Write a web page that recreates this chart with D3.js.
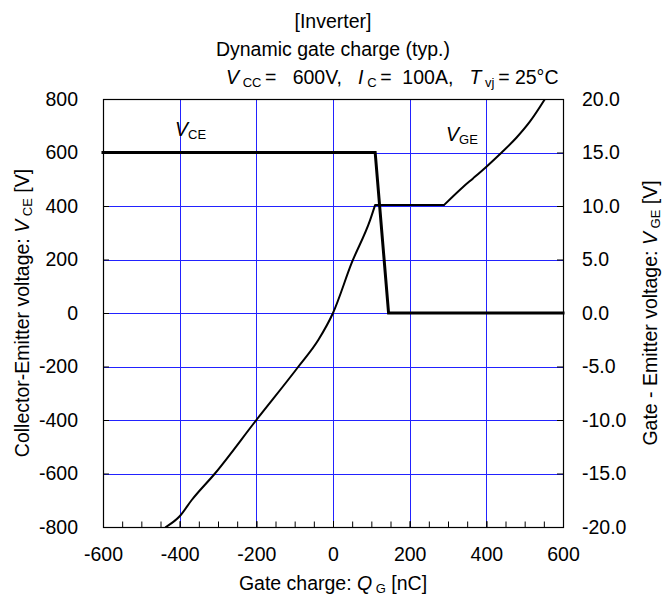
<!DOCTYPE html>
<html>
<head>
<meta charset="utf-8">
<script src="https://cdn.jsdelivr.net/npm/d3@7"></script>
<style>
  body { margin: 0; background: #fff; }
  text { font-family: Arial, "Liberation Sans", sans-serif; fill: #000; white-space: pre; }
</style>
</head>
<body>
<svg id="chart"></svg>
<script>
// axis ticks
const qTicks = [-600, -400, -200, 0, 200, 400, 600];
const qMinorTicks = [-600, -550, -500, -450, -400, -350, -300, -250, -200, -150, -100, -50, 0,
  50, 100, 150, 200, 250, 300, 350, 400, 450, 500, 550, 600];
const vceTicks = [-800, -600, -400, -200, 0, 200, 400, 600, 800];
const vgeTicks = [-20, -15, -10, -5, 0, 5, 10, 15, 20];

// V_CE curve (left axis)
const qgVce = [-600, 110, 145, 600];
const vce = [600, 600, 0, 0];

// V_GE curve (right axis)
const qgVge = [-436, -400, -369, -308, -200, -90, -38, 0, 49, 97, 110, 290, 340, 366, 401, 440, 479, 514, 553];
const vge = [-20, -19.0, -17.5, -15, -10, -5, -2.5, 0, 4.7, 8.7, 10.1, 10.1, 11.8, 12.6, 13.7, 15, 16.4, 17.9, 20];
// the plateau (Miller region) runs between these two charges
const plateauStart = 110;
const plateauEnd = 290;

const width = 668;
const height = 598;
const margin = { top: 99, right: 105, bottom: 71, left: 103 };
const fs = 19.5;
const subFs = 13;

const svg = d3.select('#chart')
  .attr('width', width)
  .attr('height', height);

const x = d3.scaleLinear().domain([-600, 600]).range([margin.left, width - margin.right]);
const yL = d3.scaleLinear().domain([-800, 800]).range([height - margin.bottom, margin.top]);
const yR = d3.scaleLinear().domain([-20, 20]).range([height - margin.bottom, margin.top]);

const x0 = margin.left;
const x1 = width - margin.right;
const y0 = margin.top;
const y1 = height - margin.bottom;

// grid
const grid = svg.append('g').attr('stroke', '#2222ff').attr('stroke-width', 1);
grid.selectAll('line.v')
  .data(qTicks.slice(1, -1))
  .enter()
  .append('line')
  .attr('x1', (d) => Math.round(x(d)) + 0.5)
  .attr('x2', (d) => Math.round(x(d)) + 0.5)
  .attr('y1', y0)
  .attr('y2', y1);
grid.selectAll('line.h')
  .data(vceTicks.slice(1, -1))
  .enter()
  .append('line')
  .attr('x1', x0)
  .attr('x2', x1)
  .attr('y1', (d) => Math.round(yL(d)) + 0.5)
  .attr('y2', (d) => Math.round(yL(d)) + 0.5);

// axes (ticks point inward)
const styleAxis = (g) => {
  g.select('.domain').remove();
  g.selectAll('line').attr('stroke', '#000');
  g.selectAll('text').style('font-size', `${fs}px`).style('font-family', 'Arial, "Liberation Sans", sans-serif');
};

svg.append('g')
  .attr('transform', `translate(${x0},0)`)
  .call(d3.axisLeft(yL).tickValues(vceTicks).tickSize(-6).tickPadding(25).tickFormat((d) => String(d)))
  .call(styleAxis);

svg.append('g')
  .attr('transform', `translate(${x1},0)`)
  .call(d3.axisRight(yR).tickValues(vgeTicks).tickSize(-6).tickPadding(19).tickFormat((d) => d.toFixed(1)))
  .call(styleAxis);

svg.append('g')
  .attr('transform', `translate(0,${y1})`)
  .call(d3.axisBottom(x).tickValues(qMinorTicks).tickSize(-5.5).tickFormat(''))
  .call(styleAxis);

svg.append('g')
  .attr('transform', `translate(0,${y1})`)
  .call(d3.axisBottom(x).tickValues(qTicks).tickSize(-6).tickPadding(20).tickFormat((d) => String(d)))
  .call(styleAxis);

// frame
svg.append('rect')
  .attr('x', x0 + 0.5)
  .attr('y', y0 + 0.5)
  .attr('width', x1 - x0)
  .attr('height', y1 - y0)
  .attr('fill', 'none')
  .attr('stroke', '#000')
  .attr('stroke-width', 1.2);

svg.append('clipPath').attr('id', 'plot-clip')
  .append('rect')
  .attr('x', x0)
  .attr('y', y0)
  .attr('width', x1 - x0)
  .attr('height', y1 - y0);

// curves
const vgePts = qgVge.map((q, i) => [q, vge[i]]);
const vgeSmooth = d3.line()
  .x((d) => x(d[0]))
  .y((d) => yR(d[1]))
  .curve(d3.curveMonotoneX);
const vgeStraight = d3.line()
  .x((d) => x(d[0]))
  .y((d) => yR(d[1]));
// smooth rise, flat plateau with sharp corners, smooth rise again
const vgePath = vgeSmooth(vgePts.filter((d) => d[0] <= plateauStart))
  + vgeStraight(vgePts.filter((d) => d[0] >= plateauStart && d[0] <= plateauEnd))
  + vgeSmooth(vgePts.filter((d) => d[0] >= plateauEnd));

svg.append('path')
  .attr('clip-path', 'url(#plot-clip)')
  .attr('d', vgePath)
  .attr('fill', 'none')
  .attr('stroke', '#000')
  .attr('stroke-width', 2)
  .attr('stroke-linecap', 'round')
  .attr('stroke-linejoin', 'round');

const vceLine = d3.line()
  .x((d) => x(d[0]))
  .y((d) => yL(d[1]));
svg.append('path')
  .datum(qgVce.map((q, i) => [q, vce[i]]))
  .attr('d', vceLine)
  .attr('fill', 'none')
  .attr('stroke', '#000')
  .attr('stroke-width', 3)
  .attr('stroke-linecap', 'square');

// text helper: parts = [[text, 'i'|'s'|'']]
const rich = (el, parts) => {
  let sub = false;
  parts.forEach(([t, k]) => {
    const ts = el.append('tspan').text(t);
    if (k === 'i') ts.style('font-style', 'italic');
    if (k === 's' && !sub) { ts.attr('dy', 3).style('font-size', `${subFs}px`); sub = true; }
    else if (k === 's') ts.style('font-size', `${subFs}px`);
    else if (sub) { ts.attr('dy', -3); sub = false; }
  });
  return el;
};

// header
svg.append('text').attr('x', 333).attr('y', 28).attr('text-anchor', 'middle')
  .style('font-size', `${fs}px`).text('[Inverter]');
svg.append('text').attr('x', 333).attr('y', 56).attr('text-anchor', 'middle')
  .style('font-size', `${fs}px`).text('Dynamic gate charge (typ.)');
rich(svg.append('text').attr('x', 226).attr('y', 84).style('font-size', `${fs}px`), [
  ['V', 'i'], [' CC ', 's'], ['=   600V,   ', ''], ['I', 'i'], [' C ', 's'], ['=  100A,   ', ''],
  ['T', 'i'], [' vj ', 's'], ['= 25°C', ''],
]);

// curve labels
rich(svg.append('text').attr('x', 175).attr('y', 136).style('font-size', `${fs}px`), [
  ['V', 'i'], ['CE', 's'],
]);
rich(svg.append('text').attr('x', 446).attr('y', 141).style('font-size', `${fs}px`), [
  ['V', 'i'], ['GE', 's'],
]);

// axis titles
rich(svg.append('text').attr('x', 333).attr('y', 590).attr('text-anchor', 'middle').style('font-size', `${fs}px`), [
  ['Gate charge: ', ''], ['Q', 'i'], [' G', 's'], [' [nC]', ''],
]);
rich(svg.append('text')
  .attr('transform', `translate(29,${(y0 + y1) / 2}) rotate(-90)`)
  .attr('text-anchor', 'middle')
  .style('font-size', `${fs}px`), [
  ['Collector-Emitter voltage: ', ''], ['V', 'i'], [' CE', 's'], [' [V]', ''],
]);
rich(svg.append('text')
  .attr('transform', `translate(657,${(y0 + y1) / 2}) rotate(-90)`)
  .attr('text-anchor', 'middle')
  .style('font-size', `${fs}px`), [
  ['Gate - Emitter voltage: ', ''], ['V', 'i'], [' GE', 's'], [' [V]', ''],
]);
</script>
</body>
</html>
